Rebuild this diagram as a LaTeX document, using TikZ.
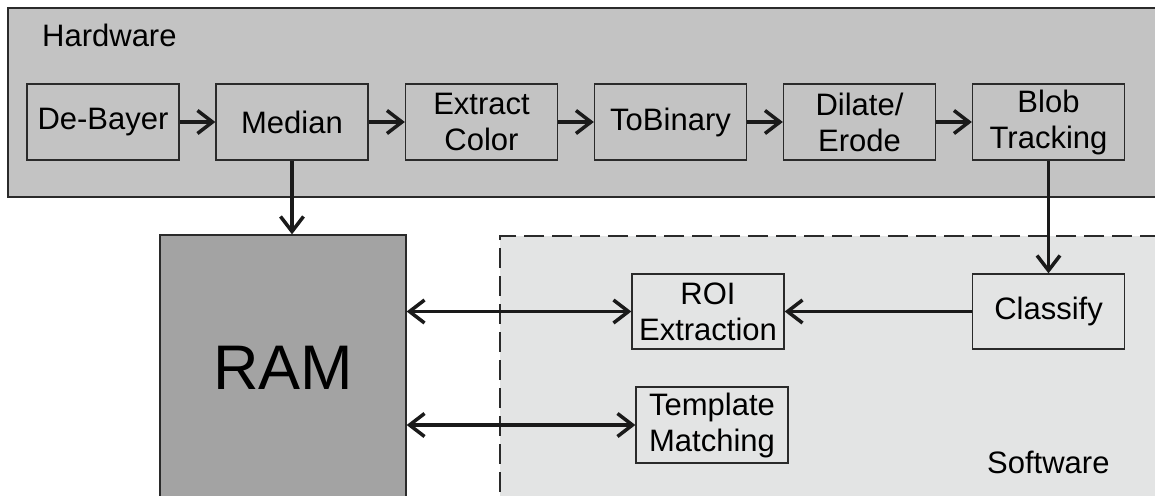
\documentclass[tikz,border=0pt]{standalone}
\usepackage{fontspec}
\setmainfont{Liberation Sans}
\usetikzlibrary{arrows.meta}
\definecolor{hwfill}{HTML}{C3C3C3}
\definecolor{swfill}{HTML}{E3E4E4}
\definecolor{ramfill}{HTML}{A3A3A3}
\definecolor{edge}{HTML}{2A2A2A}
\definecolor{arrc}{HTML}{1A1A1A}
\tikzset{
  blk/.style={draw=edge, line width=1.3pt, inner sep=0pt, align=center,
    minimum width=152pt, minimum height=76pt,
    font=\fontsize{31}{36}\selectfont},
  hwblk/.style={blk, fill=hwfill},
  swblk/.style={blk, fill=swfill},
  barb/.style={Straight Barb[length=15pt,width=23pt,line width=3.5pt]},
  arr/.style={draw=arrc, line width=3.5pt, -{Straight Barb[length=15pt,width=23pt,line width=3.5pt]}},
  arrb/.style={draw=arrc, line width=3.5pt, {Straight Barb[length=15pt,width=23pt,line width=3.5pt]}-{Straight Barb[length=15pt,width=23pt,line width=3.5pt]}},
  lbl/.style={inner sep=0pt, font=\fontsize{31}{36}\selectfont},
}
\begin{document}
\begin{tikzpicture}[x=1pt,y=-1pt]
\useasboundingbox (0,0) rectangle (1155,495);
\clip (0,0) rectangle (1155,495);
% regions (they run on past the right and bottom edges)
\node[draw=edge, line width=1.3pt, fill=hwfill, minimum width=1172pt, minimum height=189pt, inner sep=0pt] (hw) at (594,102.5) {};
\node[draw=edge, line width=1.3pt, fill=swfill, dashed, dash pattern=on 20pt off 8pt, minimum width=680pt, minimum height=280pt, inner sep=0pt] (sw) at (840,376) {};
\node[lbl, anchor=base west] (hwl) at (42,46) {Hardware};
\node[lbl, anchor=base west] (swl) at (987,473) {Software};
% hardware blocks
\node[hwblk] (deb) at (103,122) {De-Bayer};
\node[hwblk] (med) at (292,122) {Median};
\node[hwblk] (ext) at (481.5,122) {Extract\\Color};
\node[hwblk] (tob) at (670.5,122) {ToBinary};
\node[hwblk] (dil) at (859.5,122) {Dilate/\\Erode};
\node[hwblk] (blob) at (1048.5,122) {Blob\\Tracking};
% RAM
\node[draw=edge, line width=1.3pt, fill=ramfill, minimum width=246pt, minimum height=265pt, inner sep=0pt, font=\fontsize{63}{70}\selectfont] (ram) at (283,367.5) {RAM};
% software blocks
\node[swblk, minimum height=75pt] (cls) at (1048.5,311.5) {Classify};
\node[swblk, minimum height=75pt] (roi) at (708,311.5) {ROI\\Extraction};
\node[swblk] (tm) at (712,425) {Template\\Matching};
% connectors
\draw[arr] (deb) -- (med);
\draw[arr] (med) -- (ext);
\draw[arr] (ext) -- (tob);
\draw[arr] (tob) -- (dil);
\draw[arr] (dil) -- (blob);
\draw[arr] (med.south) -- (med.south |- ram.north);
\draw[arr] (blob.south) -- (cls.north);
\draw[arr] (cls) -- (roi);
\draw[arrb] (roi.west -| ram.east) -- (roi.west);
\draw[arrb] (tm.west -| ram.east) -- (tm.west);
\end{tikzpicture}
\end{document}
